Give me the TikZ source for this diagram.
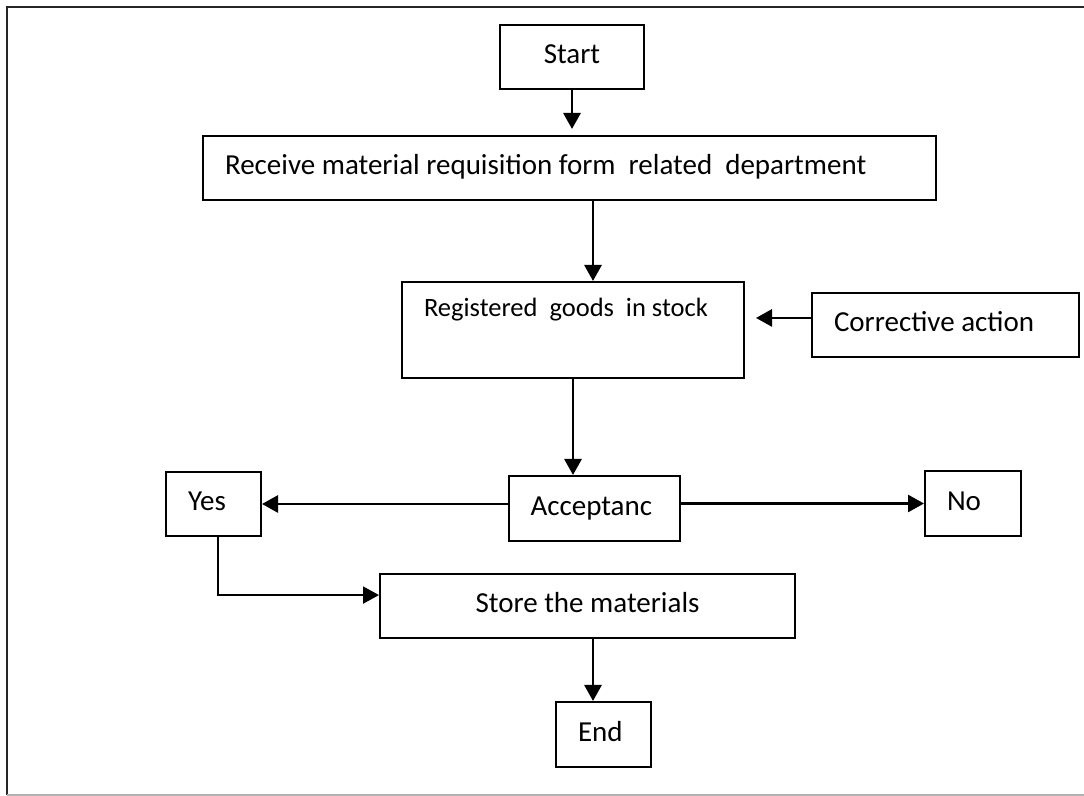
\documentclass[tikz,border=0pt]{standalone}
\usepackage{fontspec}
\setmainfont{Carlito}
\usetikzlibrary{arrows.meta,calc}
\begin{document}
\begin{tikzpicture}[x=0.5pt,y=-0.5pt,
  box/.style={draw=black,line width=1pt,inner sep=0pt,minimum height=32pt,
    font=\fontsize{14.5pt}{17pt}\selectfont,text height=10pt,text depth=3pt},
  cbox/.style={box,align=center},
  lbox/.style={box,align=flush left,inner xsep=11pt},
  arr/.style={line width=1.4pt,-{Triangle[length=8pt,width=8.5pt]}},
  thinarr/.style={arr,line width=1pt}]
\useasboundingbox (0,0) rectangle (1084,796);

% page frame
\draw[line width=1pt,black!85] (7,795) -- (7,7) -- (1084,7);
\draw[line width=1pt,black!30] (7,795) -- (1084,795);

% process boxes
\node[cbox,minimum width=72pt] (start) at (572,57) {Start};
\node[lbox,text width=344.5pt] (recv) at (569.5,168)
  {\mbox{Receive material requisition form\ \ related\ \ department}};
\node[lbox,text width=149pt,minimum height=0pt,
  font=\fontsize{13.25pt}{16pt}\selectfont,text height=17.5pt,text depth=30.5pt]
  (reg) at (573,330) {\mbox{Registered\ \ goods\ \ in stock}};
\node[lbox,text width=111.5pt] (corr) at (945.5,325) {\mbox{Corrective action}};
\node[lbox,text width=63.5pt,minimum height=32.5pt] (acc) at (594,508.5) {Acceptanc};
\node[lbox,text width=25.5pt] (yes) at (213.5,504) {Yes};
\node[lbox,text width=26pt,minimum height=32.5pt] (no) at (973,503.5) {No};
\node[cbox,minimum width=207.5pt] (store) at (587.5,606) {Store the materials};
\node[lbox,text width=25.5pt,minimum height=32.5pt] (end) at (603.5,734.5) {End};

% connectors
\draw[arr,shorten >=3pt] (start.south) -- (start.south |- recv.north);
\draw[arr] ($(recv.south)+(23.5,0)$) -- ($(reg.north)+(20,0)$);
\draw[arr,shorten >=5.5pt] (corr.177) -- (corr.177 -| reg.east);
\draw[arr] (reg.south) -- (reg.south |- acc.north);
\draw[arr] (acc.west |- yes.east) -- (yes.east);
\draw[arr] (acc.east |- no.west) -- (no.west);
\draw[thinarr] ([xshift=2.25pt]yes.south) |- (store.177);
\draw[arr] ($(store.south)+(5.5,0)$) -- ($(end.north)+(-10.5,0)$);
\end{tikzpicture}
\end{document}
